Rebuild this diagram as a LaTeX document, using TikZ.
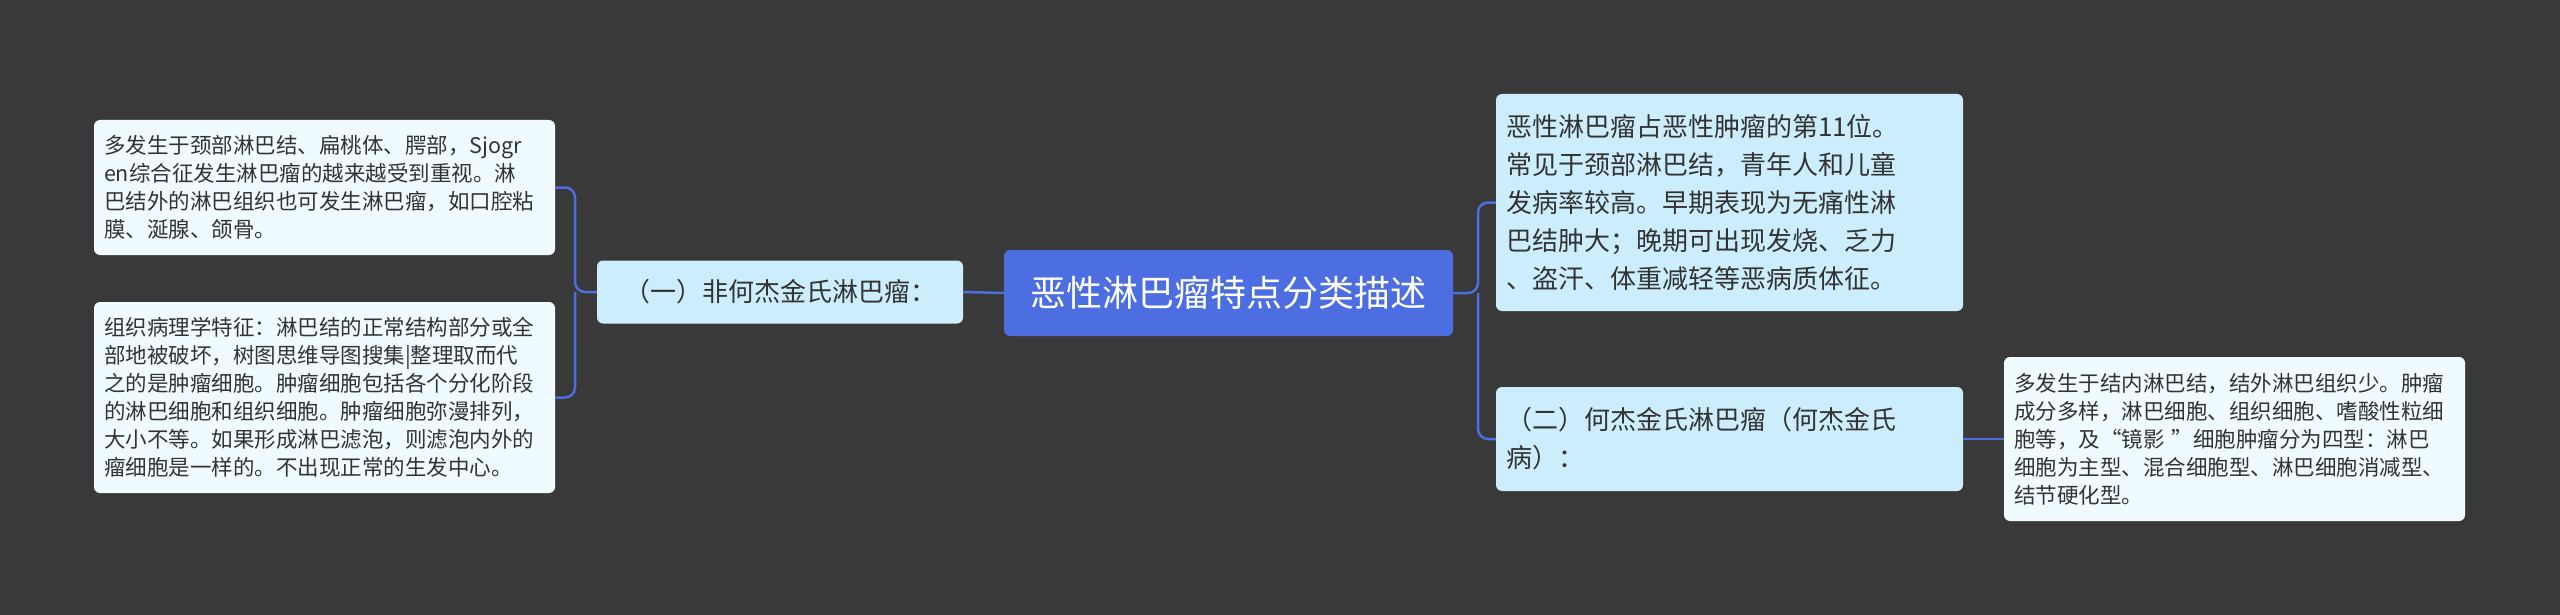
\documentclass[tikz,border=0pt]{standalone}
\usepackage{fontspec}
\setmainfont{Noto Sans CJK SC}
\begin{document}
\begin{tikzpicture}[x=1pt,y=-1pt,
  box/.style={rounded corners=6pt, inner xsep=10pt, inner ysep=0pt, align=left, text=black!80},
  root/.style={box, fill=rootblue, text=white, font=\fontsize{36}{44}\selectfont, align=center},
  lvone/.style={box, fill=lvblue, font=\fontsize{26}{38}\selectfont},
  leaf/.style={box, fill=leafbg, font=\fontsize{21.5}{28}\selectfont},
  conn/.style={draw=rootblue, line width=2.5pt, rounded corners=10pt}]
\definecolor{bg}{RGB}{58,57,58}
\definecolor{rootblue}{RGB}{76,110,224}
\definecolor{lvblue}{RGB}{204,238,252}
\definecolor{leafbg}{RGB}{240,251,255}
\fill[bg] (0,0) rectangle (2560,615);
\useasboundingbox (0,0) rectangle (2560,615);

\node[root, minimum width=449pt, minimum height=86pt] (c) at (1228.5,293) {恶性淋巴瘤特点分类描述};
\node[lvone, minimum width=366pt, minimum height=63pt, font=\fontsize{26}{34}\selectfont] (l) at (780,292) {（一）非何杰金氏淋巴瘤：};
\node[leaf, minimum width=461pt, minimum height=135pt, text width=441pt] (lt) at (324.5,187.5) {多发生于颈部淋巴结、扁桃体、腭部，Sjogr\\en综合征发生淋巴瘤的越来越受到重视。淋\\巴结外的淋巴组织也可发生淋巴瘤，如口腔粘\\膜、涎腺、颌骨。};
\node[leaf, minimum width=461pt, minimum height=191pt, text width=441pt] (lb) at (324.5,397.5) {组织病理学特征：淋巴结的正常结构部分或全\\部地被破坏，树图思维导图搜集|整理取而代\\之的是肿瘤细胞。肿瘤细胞包括各个分化阶段\\的淋巴细胞和组织细胞。肿瘤细胞弥漫排列，\\大小不等。如果形成淋巴滤泡，则滤泡内外的\\瘤细胞是一样的。不出现正常的生发中心。};
\node[lvone, minimum width=467pt, minimum height=217pt, text width=447pt] (rt) at (1729.5,202.5) {恶性淋巴瘤占恶性肿瘤的第11位。\\常见于颈部淋巴结，青年人和儿童\\发病率较高。早期表现为无痛性淋\\巴结肿大；晚期可出现发烧、乏力\\、盗汗、体重减轻等恶病质体征。};
\node[lvone, minimum width=467pt, minimum height=104pt, text width=447pt] (rm) at (1729.5,439) {（二）何杰金氏淋巴瘤（何杰金氏\\病）：};
\node[leaf, minimum width=461pt, minimum height=164pt, text width=441pt] (rf) at (2234.5,439) {多发生于结内淋巴结，结外淋巴组织少。肿瘤\\成分多样，淋巴细胞、组织细胞、嗜酸性粒细\\胞等，及“镜影 ”细胞肿瘤分为四型：淋巴\\细胞为主型、混合细胞型、淋巴细胞消减型、\\结节硬化型。};

\draw[conn] (c.west) -- (l.east);
\draw[conn] (l.west) -- (575,292) |- (lt.east);
\draw[conn] (575,292) |- (lb.east);
\draw[conn] (c.east) -- (1478,293) |- (rt.west);
\draw[conn] (1478,293) |- (rm.west);
\draw[conn] (rm.east) -- (rf.west);
\end{tikzpicture}
\end{document}
